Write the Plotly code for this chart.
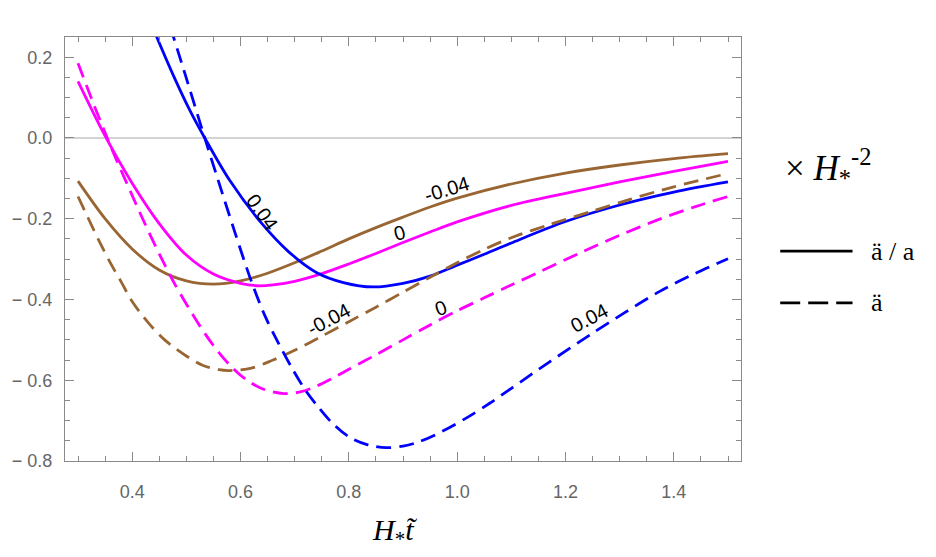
import plotly.graph_objects as go

# ---------------- data ----------------
# ä/a curves (solid), epsilon = -0.04 (brown), 0 (magenta), 0.04 (blue)
x_br_s = [0.30, 0.35, 0.40, 0.45, 0.50, 0.55, 0.60, 0.65, 0.70, 0.75, 0.80, 0.85, 0.90, 0.95, 1.00, 1.10, 1.20, 1.30, 1.40, 1.50]
y_br_s = [-0.107, -0.200, -0.275, -0.327, -0.354, -0.362, -0.354, -0.335, -0.309, -0.280, -0.250, -0.222, -0.196, -0.171, -0.149, -0.114, -0.087, -0.067, -0.051, -0.039]

x_mg_s = [0.30, 0.35, 0.40, 0.45, 0.50, 0.55, 0.60, 0.63, 0.66, 0.70, 0.75, 0.80, 0.85, 0.90, 0.95, 1.00, 1.10, 1.20, 1.30, 1.40, 1.50]
y_mg_s = [0.140, 0.005, -0.112, -0.212, -0.290, -0.337, -0.360, -0.366, -0.364, -0.355, -0.336, -0.312, -0.286, -0.259, -0.233, -0.208, -0.167, -0.137, -0.109, -0.083, -0.058]

x_bl_s = [0.44, 0.476, 0.507, 0.534, 0.58, 0.64, 0.689, 0.74, 0.79, 0.845, 0.90, 0.95, 1.00, 1.05, 1.10, 1.20, 1.30, 1.40, 1.50]
y_bl_s = [0.267, 0.155, 0.067, 0.0, -0.105, -0.213, -0.282, -0.333, -0.358, -0.369, -0.360, -0.342, -0.315, -0.288, -0.260, -0.207, -0.166, -0.134, -0.109]

# ä curves (dashed)
x_br_d = [0.30, 0.32, 0.34, 0.36, 0.38, 0.40, 0.43, 0.46, 0.50, 0.53, 0.56, 0.58, 0.62, 0.66, 0.70, 0.75, 0.80, 0.85, 0.90, 0.95, 1.00, 1.05, 1.10, 1.167, 1.25, 1.319, 1.40, 1.50]
y_br_d = [-0.145, -0.202, -0.258, -0.310, -0.357, -0.405, -0.458, -0.500, -0.540, -0.563, -0.574, -0.576, -0.570, -0.550, -0.526, -0.491, -0.455, -0.419, -0.382, -0.345, -0.309, -0.276, -0.247, -0.216, -0.181, -0.152, -0.121, -0.088]

x_mg_d = [0.30, 0.33, 0.36, 0.39, 0.42, 0.45, 0.48, 0.52, 0.55, 0.58, 0.61, 0.64, 0.68, 0.71, 0.74, 0.77, 0.80, 0.85, 0.90, 0.95, 1.00, 1.05, 1.10, 1.15, 1.228, 1.30, 1.37, 1.44, 1.50]
y_mg_d = [0.185, 0.080, -0.020, -0.112, -0.202, -0.287, -0.365, -0.455, -0.514, -0.562, -0.598, -0.621, -0.633, -0.629, -0.615, -0.595, -0.573, -0.537, -0.500, -0.463, -0.428, -0.396, -0.364, -0.333, -0.284, -0.241, -0.203, -0.170, -0.145]

x_bl_d = [0.47, 0.50, 0.534, 0.56, 0.59, 0.62, 0.645, 0.67, 0.695, 0.72, 0.741, 0.77, 0.80, 0.835, 0.869, 0.90, 0.924, 0.96, 1.015, 1.06, 1.10, 1.17, 1.246, 1.31, 1.374, 1.44, 1.50]
y_bl_d = [0.277, 0.148, 0.0, -0.110, -0.235, -0.355, -0.440, -0.508, -0.570, -0.625, -0.662, -0.707, -0.740, -0.760, -0.767, -0.763, -0.755, -0.735, -0.695, -0.657, -0.620, -0.555, -0.487, -0.432, -0.380, -0.335, -0.299]

# curve labels (epsilon values)
lab_text = ["-0.04", "0", "0.04", "-0.04", "0", "0.04"]
lab_x = [0.982, 0.893, 0.640, 0.764, 0.970, 1.244]
lab_y = [-0.126, -0.236, -0.183, -0.449, -0.420, -0.447]
lab_ang = [-17, -15, 55, -28, -20, -28]

x_ticks = [0.4, 0.6, 0.8, 1.0, 1.2, 1.4]
x_ticktext = ["0.4", "0.6", "0.8", "1.0", "1.2", "1.4"]
y_ticks = [-0.8, -0.6, -0.4, -0.2, 0.0, 0.2]
y_ticktext = ["\u2212 0.8", "\u2212 0.6", "\u2212 0.4", "\u2212 0.2", "0.0", "0.2"]

BROWN = "#996633"
MAGENTA = "#FF00FF"
BLUE = "#0000FF"
DASH = "15px,8px"
LW = 2.8

fig = go.Figure()
series = [
    (x_br_s, y_br_s, BROWN, "solid"),
    (x_mg_s, y_mg_s, MAGENTA, "solid"),
    (x_bl_s, y_bl_s, BLUE, "solid"),
    (x_br_d, y_br_d, BROWN, DASH),
    (x_mg_d, y_mg_d, MAGENTA, DASH),
    (x_bl_d, y_bl_d, BLUE, DASH),
]
for xs, ys, c, d in series:
    fig.add_trace(go.Scatter(x=xs, y=ys, mode="lines",
                             line=dict(color=c, width=LW, dash=d, shape="spline", smoothing=0.9),
                             showlegend=False, hoverinfo="skip"))

for t, x, y, a in zip(lab_text, lab_x, lab_y, lab_ang):
    fig.add_annotation(x=x, y=y, text=t, textangle=a, showarrow=False,
                       font=dict(family="Liberation Sans, Arial", size=20, color="black"))

axis_common = dict(
    showgrid=False, showline=True, linecolor="#8a8a8a", linewidth=1, mirror="ticks",
    ticks="inside", ticklen=9, tickcolor="#8a8a8a", tickwidth=1,
    tickfont=dict(family="Liberation Sans, Arial", size=18, color="#666666"),
)

fig.update_xaxes(range=[0.276, 1.524], tickvals=x_ticks, ticktext=x_ticktext,
                 zeroline=False, ticklabelstandoff=14,
                 minor=dict(dtick=0.05, tick0=0, ticks="inside", ticklen=5, tickcolor="#8a8a8a"),
                 **axis_common)
fig.update_yaxes(range=[-0.8, 0.25], tickvals=y_ticks, ticktext=y_ticktext,
                 zeroline=True, zerolinecolor="#d3d3d3", zerolinewidth=1.5,
                 ticklabelstandoff=8,
                 minor=dict(dtick=0.05, tick0=0, ticks="inside", ticklen=5, tickcolor="#8a8a8a"),
                 **axis_common)

# x-axis title
fig.add_annotation(xref="paper", yref="paper", x=0.5, y=-0.168, xanchor="center", yanchor="middle",
                   xshift=-9, text="<i>H</i><sub>*</sub><i>t\u0303</i>", showarrow=False,
                   font=dict(family="Liberation Serif, Times New Roman", size=30, color="black"))

# key on the right (paper coordinates)
fig.add_annotation(xref="paper", yref="paper", x=1.062, y=0.693, xanchor="left", yanchor="middle",
                   text="\u00d7 <i>H</i><sub>*</sub><sup>-2</sup>", showarrow=False,
                   font=dict(family="Liberation Serif, Times New Roman", size=35, color="black"))
fig.add_shape(type="line", xref="paper", yref="paper", x0=1.058, x1=1.165, y0=0.495, y1=0.495,
              line=dict(color="black", width=2.8))
fig.add_shape(type="line", xref="paper", yref="paper", x0=1.058, x1=1.165, y0=0.373, y1=0.373,
              line=dict(color="black", width=2.8, dash="20px,8px"))
fig.add_annotation(xref="paper", yref="paper", x=1.19, y=0.495, xanchor="left", yanchor="middle",
                   text="ä / a", showarrow=False,
                   font=dict(family="Liberation Serif, Times New Roman", size=26, color="black"))
fig.add_annotation(xref="paper", yref="paper", x=1.19, y=0.373, xanchor="left", yanchor="middle",
                   text="ä", showarrow=False,
                   font=dict(family="Liberation Serif, Times New Roman", size=26, color="black"))

fig.update_layout(width=936, height=557, margin=dict(l=58, r=195, t=37, b=96),
                  plot_bgcolor="white", paper_bgcolor="white", showlegend=False)

fig.write_html("out.html")
